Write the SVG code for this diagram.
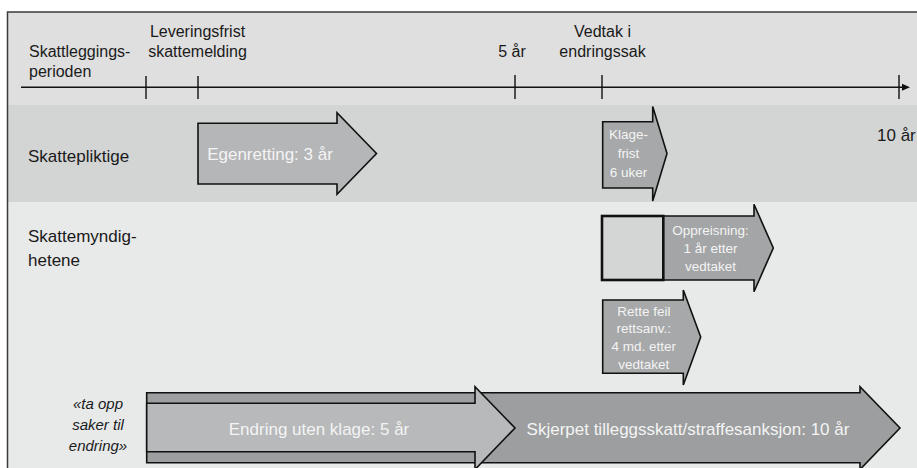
<svg xmlns="http://www.w3.org/2000/svg" width="917" height="468" viewBox="0 0 917 468">
  <style>
    text { font-family: "Liberation Sans", Arial, sans-serif; }
    .lbl { font-size: 16px; fill: #1a1a1a; }
    .row { font-size: 17px; fill: #1a1a1a; }
    .ital { font-size: 15px; fill: #1a1a1a; font-style: italic; text-anchor: middle; }
    .wb { font-size: 17px; fill: #f4f4f4; text-anchor: middle; }
    .ws { font-size: 13.5px; fill: #f4f4f4; text-anchor: middle; }
    .arrow { stroke: #111; stroke-width: 1.6; stroke-linejoin: miter; }
    .tick { stroke: #111; stroke-width: 1.4; }
  </style>

  <g id="background">
    <rect x="7.5" y="12" width="910" height="93" fill="#dfdfdf"/>
    <rect x="7.5" y="105" width="910" height="97" fill="#d3d4d4"/>
    <rect x="7.5" y="202" width="910" height="266" fill="#e8e9e9"/>
    <path d="M7.5 468 V12 H917" fill="none" stroke="#3a3a3a" stroke-width="1.5"/>
  </g>

  <g id="axis">
    <line x1="21" y1="87.3" x2="903" y2="87.3" class="tick"/>
    <polygon points="902,83.8 910,87.3 902,90.8" fill="#111"/>
    <line x1="146" y1="76" x2="146" y2="99" class="tick"/>
    <line x1="198" y1="76" x2="198" y2="99" class="tick"/>
    <line x1="515" y1="75" x2="515" y2="99" class="tick"/>
    <line x1="602" y1="75" x2="602" y2="99" class="tick"/>
    <line x1="899" y1="75" x2="899" y2="99" class="tick"/>
  </g>

  <g id="labels-top">
    <text class="lbl" x="29" y="57">Skattleggings-</text>
    <text class="lbl" x="29" y="77">perioden</text>
    <text class="lbl" x="197.5" y="36.5" text-anchor="middle">Leveringsfrist</text>
    <text class="lbl" x="197.5" y="57" text-anchor="middle">skattemelding</text>
    <text class="lbl" x="512" y="57" text-anchor="middle">5 år</text>
    <text class="lbl" x="602.5" y="36.5" text-anchor="middle">Vedtak i</text>
    <text class="lbl" x="602.5" y="57" text-anchor="middle">endringssak</text>
  </g>

  <g id="row-skattepliktige">
    <text class="row" x="28" y="162">Skattepliktige</text>
    <text class="row" x="877" y="141">10 år</text>
  </g>

  <g id="row-skattemyndighetene">
    <text class="row" x="28" y="242">Skattemyndig-</text>
    <text class="row" x="28" y="265.5">hetene</text>
  </g>

  <g id="row-endring-label">
    <text class="ital" x="98" y="409">«ta opp</text>
    <text class="ital" x="98" y="430">saker til</text>
    <text class="ital" x="98" y="450.5">endring»</text>
  </g>

  <g id="node-egenretting">
    <polygon class="arrow" fill="#b4b6b7" points="198,123.3 337,123.3 337,112.8 376.5,153.5 337,194.3 337,184 198,184"/>
    <text class="wb" x="270" y="159.5" font-size="16.5">Egenretting: 3 år</text>
  </g>

  <g id="node-klagefrist">
    <polygon class="arrow" fill="#a6a8a9" points="602.7,121.7 652.7,121.7 652.7,106.5 667,153.5 652.7,201 652.7,188 602.7,188"/>
    <text class="ws" x="628.5" y="139">Klage-</text>
    <text class="ws" x="628.5" y="158">frist</text>
    <text class="ws" x="628.5" y="177">6 uker</text>
  </g>

  <g id="node-oppreisning">
    <polygon class="arrow" fill="#a3a5a6" points="663,216 754,216 754,204.3 773.3,248 754,291.7 754,280 663,280"/>
    <rect x="602" y="216" width="61.3" height="64" fill="#d4d5d5" stroke="#111" stroke-width="2.6"/>
    <text class="ws" x="710.5" y="234.5">Oppreisning:</text>
    <text class="ws" x="710.5" y="252.5">1 år etter</text>
    <text class="ws" x="710.5" y="270.5">vedtaket</text>
  </g>

  <g id="node-rette-feil">
    <polygon class="arrow" fill="#a6a8a9" points="602.7,300 683.3,300 683.3,290 700.7,337 683.3,385 683.3,373.3 602.7,373.3"/>
    <text class="ws" x="643.8" y="316">Rette feil</text>
    <text class="ws" x="643.8" y="333">rettsanv.:</text>
    <text class="ws" x="643.8" y="351">4 md. etter</text>
    <text class="ws" x="643.8" y="369">vedtaket</text>
  </g>

  <g id="node-skjerpet">
    <polygon class="arrow" fill="#9c9e9f" points="146.7,392.7 860,392.7 860,386.7 900,428 860,469.5 860,462.7 146.7,462.7"/>
    <text class="wb" x="688" y="435">Skjerpet tilleggsskatt/straffesanksjon: 10 år</text>
  </g>

  <g id="node-endring">
    <polygon class="arrow" fill="#b7b9ba" points="146.7,403.3 475,403.3 475,386.7 515,428 475,469.5 475,451.7 146.7,451.7"/>
    <text class="wb" x="319" y="434.5">Endring uten klage: 5 år</text>
  </g>
</svg>
